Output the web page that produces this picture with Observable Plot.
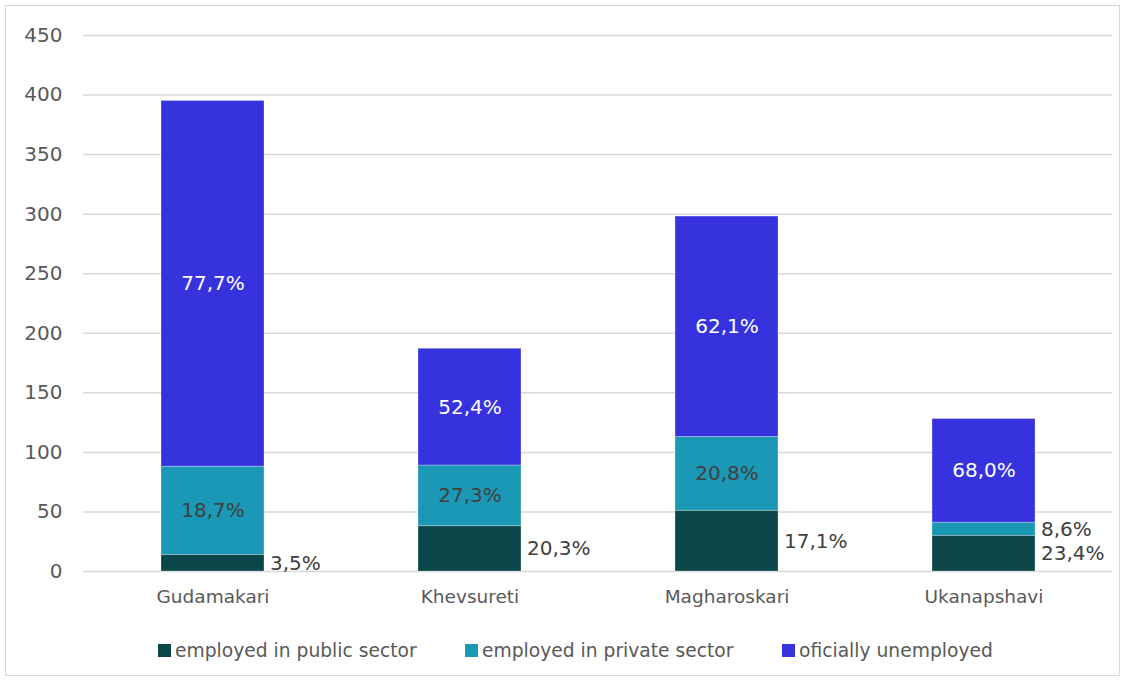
<!DOCTYPE html>
<html>
<head>
<meta charset="utf-8">
<script src="https://cdn.jsdelivr.net/npm/d3@7"></script>
<script src="https://cdn.jsdelivr.net/npm/@observablehq/plot@0.6"></script>
<style>
  html, body { margin: 0; padding: 0; background: #fff; }
  body { width: 1126px; height: 681px; position: relative; overflow: hidden; font-family: "DejaVu Sans", sans-serif; }
  #frame { position: absolute; left: 5px; top: 5px; width: 1115px; height: 671px; border: 1px solid #d9d9d9; box-sizing: border-box; pointer-events: none; }
  #chart { position: absolute; left: 0; top: 0; }
  #legend { position: absolute; left: 0; top: 638px; width: 1126px; height: 24px; }
  .item { position: absolute; top: 0; height: 24px; display: flex; align-items: center; font-size: 18.7px; color: #595959; white-space: nowrap; }
  .sw { width: 13px; height: 13px; margin-right: 4px; display: inline-block; }
</style>
</head>
<body>
<div id="chart"></div>
<div id="legend"></div>
<div id="frame"></div>
<script>
const categories = ["Gudamakari", "Khevsureti", "Magharoskari", "Ukanapshavi"];
const seriesNames = ["employed in public sector", "employed in private sector", "oficially unemployed"];
const seriesColors = ["#0b4648", "#1b98b5", "#3633de"];
const publicValues = [14, 38, 51, 30];
const privateValues = [74, 51, 62, 11];
const unemployedValues = [307, 98, 185, 87];
const publicLabels = ["3,5%", "20,3%", "17,1%", "23,4%"];
const privateLabels = ["18,7%", "27,3%", "20,8%", "8,6%"];
const unemployedLabels = ["77,7%", "52,4%", "62,1%", "68,0%"];
const yTicks = [0, 50, 100, 150, 200, 250, 300, 350, 400, 450];
const legendX = [158, 465, 782];

const valueSets = [publicValues, privateValues, unemployedValues];
const labelSets = [publicLabels, privateLabels, unemployedLabels];
const data = [];
categories.forEach((c, i) => {
  seriesNames.forEach((s, j) => {
    data.push({cat: c, series: s, value: valueSets[j][i], label: labelSets[j][i], si: j});
  });
});

const outside = d => d.si === 0 || (d.si === 1 && d.cat === "Ukanapshavi");
const font = "'DejaVu Sans', sans-serif";

const chart = Plot.plot({
  width: 1126,
  height: 620,
  marginLeft: 83,
  marginRight: 14,
  marginTop: 35,
  marginBottom: 49,
  style: {fontFamily: font, background: "transparent"},
  x: {domain: categories, paddingInner: 0.6, paddingOuter: 0.3, label: null},
  y: {domain: [0, 450], label: null},
  color: {domain: seriesNames, range: seriesColors},
  marks: [
    Plot.gridY(yTicks, {stroke: "#d9d9d9", strokeOpacity: 1, strokeWidth: 1.5}),
    Plot.barY(data, {x: "cat", y: "value", z: "series", fill: "series", stroke: "#ffffff", strokeOpacity: 0.35, strokeWidth: 0.8}),
    Plot.text(data, Plot.stackY({x: "cat", y: "value", z: "series", text: d => d.si === 2 ? d.label : null, fill: "#ffffff", fontSize: 20})),
    Plot.text(data, Plot.stackY({x: "cat", y: "value", z: "series", text: d => (d.si === 1 && !outside(d)) ? d.label : null, fill: "#404040", fontSize: 20})),
    Plot.text(data, Plot.stackY({x: "cat", y: "value", z: "series", text: d => outside(d) ? d.label : null, fill: "#404040", fontSize: 20, textAnchor: "start", dx: 57})),
    Plot.axisY(yTicks, {tickSize: 0, tickPadding: 21, fontSize: 20, color: "#595959", label: null}),
    Plot.axisX({tickSize: 0, tickPadding: 18, fontSize: 18.5, color: "#595959", label: null})
  ]
});
document.getElementById("chart").appendChild(chart);

const legend = document.getElementById("legend");
seriesNames.forEach((s, j) => {
  const item = document.createElement("div");
  item.className = "item";
  item.style.left = legendX[j] + "px";
  const sw = document.createElement("span");
  sw.className = "sw";
  sw.style.background = seriesColors[j];
  const tx = document.createElement("span");
  tx.textContent = s;
  item.appendChild(sw);
  item.appendChild(tx);
  legend.appendChild(item);
});
</script>
</body>
</html>
